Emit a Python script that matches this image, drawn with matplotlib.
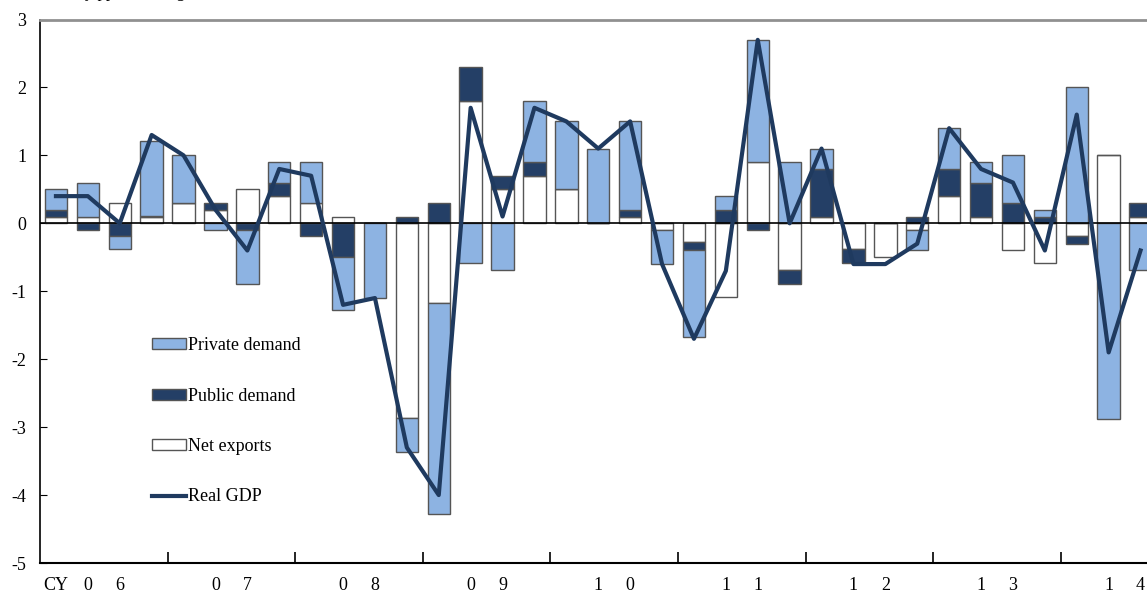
import numpy as np
import matplotlib
matplotlib.use("Agg")
import matplotlib.pyplot as plt
from matplotlib.transforms import blended_transform_factory

# quarterly contributions (% pts), CY06 Q1 .. CY14 Q3
private_demand = [0.3, 0.5, -0.2, 1.1, 0.7, -0.1, -0.8, 0.3, 0.6, -0.78, -1.1, -0.5,
                  -3.1, -0.58, -0.69, 0.9, 1.0, 1.1, 1.3, -0.5, -1.28, 0.2, 1.8, 0.9,
                  0.3, 0.0, 0.0, -0.3, 0.6, 0.3, 0.7, 0.1, 2.0, -2.88, -0.69]
public_demand = [0.1, -0.1, -0.18, 0.01, 0.0, 0.1, -0.1, 0.2, -0.18, -0.5, 0.0, 0.1,
                 0.3, 0.5, 0.2, 0.2, 0.0, 0.0, 0.1, 0.0, -0.12, 0.2, -0.1, -0.2,
                 0.7, -0.2, 0.0, 0.1, 0.4, 0.5, 0.3, 0.1, -0.12, 0.0, 0.2]
net_exports = [0.1, 0.1, 0.3, 0.1, 0.3, 0.2, 0.5, 0.4, 0.3, 0.1, 0.0, -2.87,
               -1.18, 1.8, 0.5, 0.7, 0.5, 0.0, 0.1, -0.1, -0.28, -1.09, 0.9, -0.69,
               0.1, -0.38, -0.5, -0.1, 0.4, 0.1, -0.39, -0.59, -0.18, 1.0, 0.1]
real_gdp = [0.4, 0.4, 0.0, 1.3, 1.0, 0.2, -0.4, 0.8, 0.7, -1.2, -1.1, -3.3,
            -4.0, 1.7, 0.1, 1.7, 1.5, 1.1, 1.5, -0.6, -1.7, -0.7, 2.7, 0.0,
            1.1, -0.6, -0.6, -0.3, 1.4, 0.8, 0.6, -0.4, 1.6, -1.9, -0.4]
year_labels = ["06", "07", "08", "09", "10", "11", "12", "13", "14"]

LIGHT = "#8DB3E2"
DARK = "#243F66"
LINE = "#1F3A5F"
EDGE = "#555555"

plt.rcParams["font.family"] = ["Liberation Serif", "DejaVu Serif"]
plt.rcParams["axes.unicode_minus"] = False

fig = plt.figure(figsize=(11.47, 5.95), dpi=100)
ax = fig.add_axes([40 / 1147, 32 / 595, 1116.5 / 1147, 543.5 / 595])

x = np.arange(len(real_gdp))
width = 0.7

# stack outward from zero: net exports, public, private
pos_bottom = np.zeros(len(x))
neg_bottom = np.zeros(len(x))
series = [(net_exports, "white", "Net exports"),
          (public_demand, DARK, "Public demand"),
          (private_demand, LIGHT, "Private demand")]
handles = {}
for vals, col, name in series:
    vals = np.array(vals, dtype=float)
    bottom = np.where(vals >= 0, pos_bottom, neg_bottom)
    bars = ax.bar(x, vals, width, bottom=bottom, color=col, edgecolor=EDGE,
                  linewidth=1.0, zorder=2)
    handles[name] = bars
    pos_bottom += np.where(vals >= 0, vals, 0)
    neg_bottom += np.where(vals < 0, vals, 0)

line, = ax.plot(x, real_gdp, color=LINE, linewidth=3, zorder=4)
ax.axhline(0, color="black", linewidth=1.2, zorder=3)

ax.set_xlim(-0.5, len(x) - 0.5)
ax.set_ylim(-5, 3)
ax.set_yticks(np.arange(-5, 4, 1))
ax.tick_params(axis="y", direction="in", length=5, pad=10, labelsize=13)
ax.set_xticks(np.arange(3.5, len(x), 4))
ax.set_xticklabels([])
ax.tick_params(axis="x", direction="in", length=8, width=1.2)

ax.spines["right"].set_visible(False)
ax.spines["top"].set_color("#909090")
ax.spines["top"].set_linewidth(2)
ax.spines["left"].set_linewidth(1.2)
ax.spines["bottom"].set_linewidth(1.5)

# year labels (spaced digits) under each year block
trans = blended_transform_factory(ax.transData, ax.transAxes)
ax.text(0, -0.042, "CY", transform=trans, ha="center", va="center", fontsize=13)
for i, yl in enumerate(year_labels):
    mid = i * 4 + 1.5
    ax.text(mid - 0.5, -0.042, yl[0], transform=trans, ha="center", va="center", fontsize=13)
    ax.text(mid + 0.5, -0.042, yl[1], transform=trans, ha="center", va="center", fontsize=13)

# header text, mostly cut off at the top in the original
fig.text(40 / 1147, 1 + 3 / 595, "Q/Q, by ppt, % change", ha="left", va="baseline", fontsize=12)

ax.legend([handles["Private demand"], handles["Public demand"], handles["Net exports"], line],
          ["Private demand", "Public demand", "Net exports", "Real GDP"],
          loc="upper left", bbox_to_anchor=(136 / 1147, 1 - 321 / 595),
          bbox_transform=fig.transFigure, frameon=False, fontsize=13,
          labelspacing=1.85, handlelength=1.85, handleheight=0.55, handletextpad=0.15)

fig.savefig("out.png", dpi=100)
